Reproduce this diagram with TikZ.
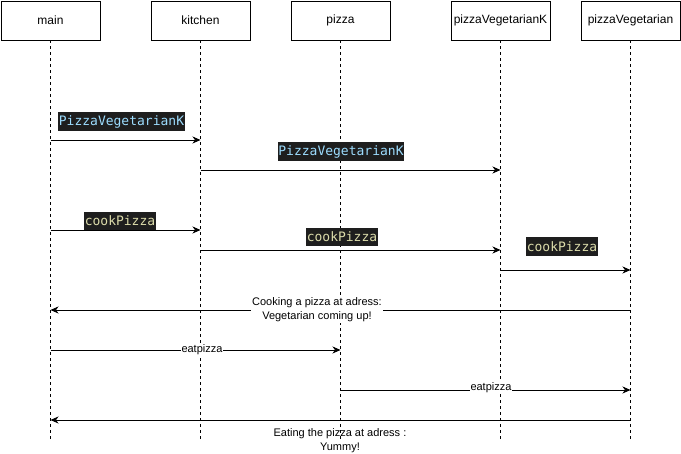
\documentclass[tikz,border=0pt]{standalone}
\usepackage{fontspec}
\setmainfont{Liberation Sans}
\newfontfamily\codefont{DejaVu Sans Mono}
\usetikzlibrary{arrows.meta}
\definecolor{codebg}{HTML}{1E1E1E}
\definecolor{codeblue}{HTML}{9CDCFE}
\definecolor{codeyellow}{HTML}{DCDCAA}
\tikzset{
head/.style={
	  draw, line width=0.8pt, minimum width=99pt, minimum height=39pt,
	    inner sep=0pt, font=\fontsize{12}{14}\selectfont},
life/.style={line width=0.8pt, dash pattern=on 3pt off 3pt},
msg/.style={line width=0.8pt, -{Stealth[length=8pt,width=7pt,inset=2.5pt]}},
code/.style={fill=codebg, inner xsep=0.5pt, inner ysep=0pt, minimum height=18.5pt,
	    font=\codefont\fontsize{13}{15}\selectfont},
say/.style={fill=white, inner sep=1pt, align=center,
	    font=\fontsize{11}{14}\selectfont}
}

\begin{document}
\begin{tikzpicture}[x=1pt, y=-1pt]
	\useasboundingbox (0,0) rectangle (681,454);
	\node[head] (main) at (50.5,20.5) {main};
	\node[head] (kitchen) at (200.5,20.5) {kitchen};
	\node[head] (pizza) at (340.5,20.5) {pizza};
	\node[head] (vegK) at (500.5,20.5) {pizzaVegetarianK};
	\node[head] (veg) at (630.5,20.5) {pizzaVegetarian};
	\foreach \obj in {main, kitchen, pizza, vegK, veg}
		\draw[life] (\obj.south) -- (\obj.south |- 0,440);
	% calls and returns
	\foreach \src/\dst/\y in {main/kitchen/140, kitchen/vegK/170,
		main/kitchen/230, kitchen/vegK/250, vegK/veg/270, veg/main/310,
		main/pizza/350, pizza/veg/390, veg/main/420}
		\draw[msg] (\src.south |- 0,\y) -- (\dst.south |- 0,\y);
	\node[code, text=codeblue] (newK) at (121.5,121.5) {PizzaVegetarianK};
	\node[code, text=codeblue] (newK2) at (341,151.5) {PizzaVegetarianK};
	\node[code, text=codeyellow] (cook1) at (120,221) {cookPizza};
	\node[code, text=codeyellow] (cook2) at (342,237) {cookPizza};
	\node[code, text=codeyellow] (cook3) at (562,246.5) {cookPizza};
	\node[say] (cooking) at (317,310) {Cooking a pizza at adress:\\Vegetarian coming up!};
	\node[say] (eat1) at (202,350) {eatpizza};
	\node[say] (eat2) at (491,388) {eatpizza};
	\node[say, fill=none, anchor=north] (yummy) at (340,427) {Eating the pizza at adress :\\Yummy!};
\end{tikzpicture}
\end{document}
